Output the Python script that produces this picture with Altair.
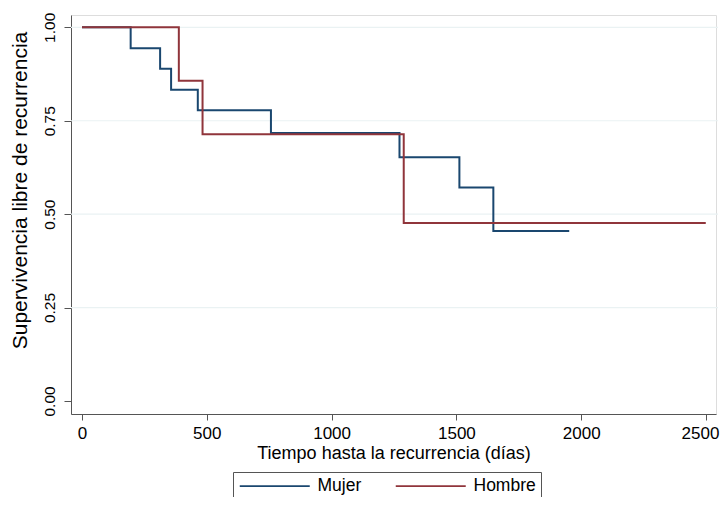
import altair as alt
import pandas as pd

# Kaplan-Meier steps
mujer_t = [0, 195, 313, 357, 464, 757, 1272, 1512, 1648, 1952]
mujer_s = [1.0, 0.944, 0.889, 0.833, 0.778, 0.717, 0.652, 0.571, 0.455, 0.455]
hombre_t = [0, 388, 483, 1289, 2499]
hombre_s = [1.0, 0.857, 0.714, 0.476, 0.476]

groups = ["Mujer", "Hombre"]
colors = ["#1a476f", "#90353b"]
y_ticks = [0, 0.25, 0.5, 0.75, 1.0]
grid_vals = [0.25, 0.5, 0.75, 1.0]
x_ticks = [0, 500, 1000, 1500, 2000, 2500]

rows = [{"t": t, "s": s, "g": "Mujer", "o": i} for i, (t, s) in enumerate(zip(mujer_t, mujer_s))]
rows += [{"t": t, "s": s, "g": "Hombre", "o": i} for i, (t, s) in enumerate(zip(hombre_t, hombre_s))]
df = pd.DataFrame(rows)
grid_df = pd.DataFrame({"v": grid_vals})

FONT = "Liberation Sans"
W, H = 645, 399
xs = alt.Scale(domain=[-44, 2540], nice=False, zero=False)
ys = alt.Scale(domain=[-0.035, 1.033], nice=False, zero=False)

y_axis = alt.Axis(values=y_ticks, format=".2f", title="Supervivencia libre de recurrencia",
                  grid=False, tickSize=7, labelAngle=270, labelAlign="center",
                  labelBaseline="bottom", labelPadding=7, titlePadding=12, titleY=175,
                  domainColor="#555555", tickColor="#555555", labelColor="#000000",
                  labelFontSize=15.5, titleFontSize=21, titleFontWeight="normal",
                  labelFont=FONT, titleFont=FONT, titleColor="#000000")
x_axis = alt.Axis(values=x_ticks, format="d", title="Tiempo hasta la recurrencia (días)",
                  grid=False, tickSize=6, labelPadding=5, titlePadding=3,
                  labelOffset={"condition": {"test": "datum.value == 2500", "value": -6}, "value": 0},
                  domainColor="#555555", tickColor="#555555", labelColor="#000000",
                  labelFontSize=17, titleFontSize=18, titleFontWeight="normal",
                  labelFont=FONT, titleFont=FONT, titleColor="#000000")

grid = alt.Chart(grid_df).mark_rule(color="#eaf2f3", strokeWidth=1.2).encode(
    y=alt.Y("v:Q", scale=ys, axis=y_axis),
    x=alt.value(0),
    x2=alt.value(W + 2),
)

lines = alt.Chart(df).mark_line(interpolate="step-after", strokeWidth=2).encode(
    x=alt.X("t:Q", scale=xs, axis=x_axis),
    y=alt.Y("s:Q", scale=ys, axis=y_axis),
    color=alt.Color("g:N", scale=alt.Scale(domain=groups, range=colors),
                    legend=alt.Legend(title=None, orient="none", legendX=162, legendY=457,
                                      direction="horizontal", symbolType="M-5,0H5",
                                      symbolSize=196, symbolStrokeWidth=1.8,
                                      symbolOffset=28,
                                      labelFontSize=17.5, labelFont=FONT, labelColor="#000000",
                                      strokeColor="#555555", padding=5, columnPadding=30,
                                      labelOffset=34)),
    order="o:Q",
)

chart = alt.layer(grid, lines).properties(
    width=W, height=H,
    autosize=alt.AutoSizeParams(type="none"),
    padding={"left": 63, "top": 7, "right": 4, "bottom": 83},
).configure_view(stroke=None).configure(background="white")

chart.save("out.html", embed_options={"renderer": "svg", "actions": False})
